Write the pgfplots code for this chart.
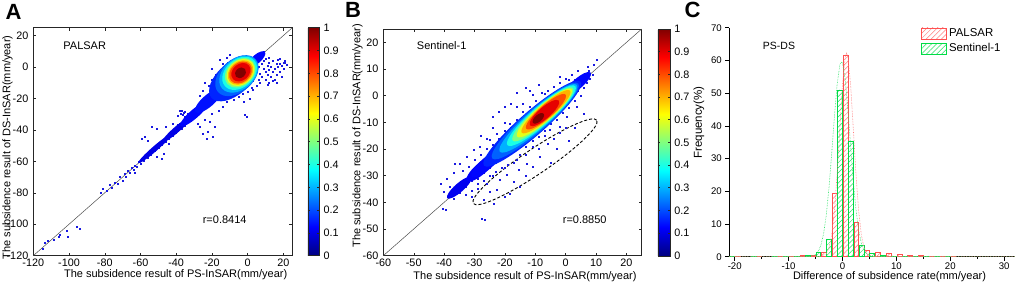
\documentclass[border=0pt]{standalone}
\usepackage{pgfplots}
\pgfplotsset{compat=1.18}
\usepackage{fontspec}
\setmainfont{Liberation Sans}
\usetikzlibrary{patterns.meta}

\def\ellr{1}
\pgfdeclareplotmark{ell}{%
  \pgfpathellipse{\pgfpointorigin}{\pgfpointpolar{41}{\pgfplotmarksize}}{\pgfpointpolar{131}{\ellr*\pgfplotmarksize}}%
  \pgfusepathqfill}

\newcommand{\fsL}{\fontsize{11}{13}\selectfont}
\newcommand{\fsT}{\fontsize{10.8}{12}\selectfont}
\newcommand{\fsC}{\fontsize{9.6}{11}\selectfont}
\definecolor{dotblue}{RGB}{25,25,225}
\definecolor{palred}{RGB}{255,80,80}
\definecolor{palredl}{RGB}{255,125,125}
\definecolor{sengreen}{RGB}{0,220,70}
\definecolor{sengreenl}{RGB}{40,225,100}

\pgfplotsset{
  mapax/.style={
    scale only axis, anchor=south west,
    colormap/jet, point meta min=0, point meta max=1,
    axis line style={black!85}, every tick/.style={black!85, line width=0.4pt},
    major tick length=3pt, tick align=inside,
    tick label style={font=\fsT},
    /pgf/number format/assume math mode=true,
    yticklabel style={xshift=-1.5pt},
    clip=false,
  },
  layer/.style={scatter, only marks, mark=ell,
    point meta=\thisrow{c},
    visualization depends on={value \thisrow{s} \as \perpointsize},
    visualization depends on={value \thisrow{r} \as \ellr},
    scatter/@pre marker code/.append style={/tikz/mark size=\perpointsize}},
  dots/.style={only marks, mark=square*, mark size=0.5pt, color=dotblue},
}

\begin{document}
\begin{tikzpicture}
\path[use as bounding box] (0,0) rectangle (1017pt,283pt);

% ---------------- Panel A ----------------
\begin{axis}[mapax,
  at={(33.3pt,27.3pt)}, width=259pt, height=228pt,
  xmin=-120, xmax=25, ymin=-120, ymax=25,
  xtick={-120,-100,-80,-60,-40,-20,0,20},
  ytick={-120,-100,-80,-60,-40,-20,0,20},
  colorbar,
  colorbar style={at={(parent axis.north east)}, anchor=north west, xshift=7pt,
    width=11.7pt, height=228pt, scale only axis,
    ytick={0,0.1,0.2,0.3,0.4,0.5,0.6,0.7,0.8,0.9,1},
    yticklabel style={font=\fsT, xshift=0.5pt},
    major tick length=2.5pt,
    /pgf/number format/assume math mode=true,
    axis line style={black!85}},
]
\addplot[black!70, line width=0.5pt] coordinates {(-120,-120) (25,25)};
\addplot[dots] table {
x y
-115 -115.5
-113.5 -112
-112 -110.5
-108.5 -110
-106 -108
-105 -106.5
-101.5 -103.8
-101 -108
-95.7 -101.6
-94 -103
-82.5 -80
-81 -77.5
-79 -78.5
-77.5 -75
-76 -77
-74.5 -73.5
-73 -74.5
-71.5 -69.5
-70 -72
-69 -68
-68 -69.5
-67 -66
-66 -67.5
-65 -64
-64 -65.5
-63 -62.5
-62 -63.5
-61 -60
-60 -61.5
-59 -58.5
-58 -59.5
-57 -56
-56 -57.5
-55 -54
-54 -55.5
-53 -52
-52 -53.5
-51 -50
-50 -51.5
-49 -48
-48 -49.5
-47 -46
-46 -47.5
-45 -44
-44 -45.5
-43 -42
-42 -43.5
-41 -40
-59.4 -45.4
-57.5 -44.3
-53.8 -38
-51 -39
-51 -57
-48.2 -58
-63 -67
-56 -47
-46 -38
-44 -49
-42 -36
-47 -55
-40 -41.5
-39 -37
-39 -40.5
-38 -38.5
-38 -36
-37 -39.5
-37 -35.5
-36 -36.5
-36 -34
-35 -37.5
-35 -33.5
-34 -34.5
-34 -31.5
-33 -35
-33 -32.5
-32 -31
-32 -34
-31 -30
-31 -32.5
-30 -28
-30 -31.5
-29 -29.5
-29 -26.5
-28 -30
-28 -27
-27 -25
-27 -28.5
-26 -27
-26 -23.5
-25 -25.5
-25 -22
-24 -26.5
-24 -23
-23 -21
-23 -24.5
-22 -22
-22 -19
-21 -23.5
-21 -20
-20 -18
-20 -21.5
-19 -16.5
-19 -20
-18 -15.5
-18 -19.5
-17 -14
-17 -18
-16 -13
-16 -17.5
-38 -28
-37.5 -29.5
-37 -27.5
-36.5 -30.5
-36 -29
-35.5 -31.5
-35 -28.5
-34.5 -32
-33.5 -29.5
-39 -31
-26.8 -38
-25 -42.2
-22.1 -41.2
-19.3 -44.3
-23 -45.3
-18.4 -38
-21.2 -34.8
-23.9 -33.7
-28 -36
-20 -30
-16 -28
-14 -25
-12 -22
-1.6 -30.5
-0.7 -31.6
3 -14.6
-3 -17
0 -16
2 -13
5 -12
-5 -19
-8 -21
-10 -18
1 -20
-2 -22
-6 -16
5 -2
6 0.5
7 -4
8 2
8 -6
9 -1
9 4
10 -3
10 -8
11 1
11 -5
12 3
12 -2
13 -6
13 0
14 -3
14 4
15 -1
15 -8
16 2
16 -5
17 0
17 4.5
18 -3
18 2
19 1
19 -6
20 3
20 -1
21 2.5
22 1.5
21 4
6 -8
7 -10
12 -10
14 -9
11 -11
3 -9
16 -10
18 5
12 6
8.7 8.9
7 7
5 6
10 5.5
9 10
-20.2 -0.8
-15.6 4.5
-14 2
-18 -5
-12 6
-10 8
-15 -2
-20 -8
-22 -12
-24 -10
-17 -9
-25 -15
-27 -18
-13 -4
-11 3
};
\addplot[layer] table {
x y c s r
-52 -52 0.1 22 0.12
-40 -40 0.1 18 0.17
-30 -30 0.13 18 0.25
-22 -21.5 0.14 17 0.35
5 5 0.13 11 0.4
-8 -7.5 0.16 29 0.55
-6 -5.5 0.22 25 0.65
-5 -4.5 0.3 22 0.7
-4.5 -4 0.4 19.5 0.72
-4.2 -3.7 0.5 17 0.75
-4 -3.5 0.6 15.5 0.76
-4 -3.5 0.7 14 0.77
-4 -3.5 0.8 12.5 0.78
-3.8 -3.3 0.9 10.5 0.78
-4 -3.7 1.0 6 0.8
};
\end{axis}

% ---------------- Panel B ----------------
\begin{axis}[mapax,
  at={(383.3pt,27.3pt)}, width=258.4pt, height=226.7pt,
  xmin=-60, xmax=25, ymin=-60, ymax=25,
  xtick={-60,-50,-40,-30,-20,-10,0,10,20},
  ytick={-60,-50,-40,-30,-20,-10,0,10,20},
  colorbar,
  colorbar style={at={(parent axis.north east)}, anchor=north west, xshift=7.6pt,
    width=12.4pt, height=226.7pt, scale only axis,
    ytick={0,0.1,0.2,0.3,0.4,0.5,0.6,0.7,0.8,0.9,1},
    yticklabel style={font=\fsT, xshift=0.5pt},
    major tick length=2.5pt,
    /pgf/number format/assume math mode=true,
    axis line style={black!85}},
]
\addplot[black!70, line width=0.5pt] coordinates {(-60,-60) (25,25)};
\addplot[dots] table {
x y
-40.3 -42.2
-39.5 -42.6
-41 -33
-40 -36
-39 -31
-36.4 -25.4
-27.6 -46
-26.5 -46.6
-38 -34
-37 -29
-34.8 -25.4
-32.6 -22.9
-30.4 -20.4
-28.2 -19.1
-24.9 -16.6
-22.7 -14.1
-18.3 -10.4
-14 -2.9
-10.7 0.3
-6.8 0.9
-1.9 7.1
0.9 5.9
7.4 10.9
9.1 11.5
7.7 9.3
10.2 13.4
0.3 -7.9
3.6 -4.1
-1.9 -11.6
-5.2 -12.9
5.8 -6.6
-22.7 -35.4
-26 -32.9
-21.6 -31.6
-19.4 -29.7
-17.2 -32.3
-15.6 -27.9
-12.8 -25.4
-10.7 -26.6
-8.5 -22.9
-27.1 -39.1
-23.8 -40.4
-18.3 -36.6
-15 -34.1
-38.1 -34.1
-6 -18
-4 -16
-2 -14
0 -12
-9 -20
-13 -22
-11 -19
-16 -24
-20 -27
-24 -30
-7 -15
-3 -20
1 -17
-25 -36
-20 -38
-13 -30
-5 -25
3 -12
-29 -35
-31 -38
-38 -37
-37 -38.5
-36 -35
-35 -36.5
-34 -32.5
-33 -34
-32 -30
-31 -32
-30 -27.5
-29 -31
-28 -25.5
-27 -29
-26 -23
-25 -27
-24 -21.5
-23 -25
-22 -19
-21 -23.5
-20 -17
-19 -22
-18 -15
-17 -20
-34 -28
-32 -26.5
-30 -24
-28 -22
-26 -20
-24 -18.5
-22 -16
-20 -13
-18 -12
-16 -9
-14 -6
-12 -4
-10 -2
-8 1
-6 2
-4 3.5
-2 5
0 6.5
2 8
4 9.5
-33 -37
-31 -35.5
-29 -33
-27 -32
-25 -30
-23 -28.5
-21 -27
-19 -26
-17 -25
-15 -22
-13 -19
-11 -17
-9 -15.5
-7 -13
-5 -10.5
-3 -9
-1 -6.5
1 -4.5
3 -2
5 0
6 3
7 5
8 6.5
9 8
4 2
2 0
6 8
3 6
-12 2
-16 -4
-20 -10
-26 -16
-24 -12
-28 -15
-24 -8
-22 -6
-20 -4
-18 -3
-16 1
-13 3
-9 4
};
\addplot[layer] table {
x y c s r
-35 -34.5 0.11 16 0.28
-28 -27.5 0.12 18 0.32
-26 -25.5 0.13 20 0.3
-20 -19.5 0.14 22 0.32
4 4.5 0.13 17 0.3
-11 -10.5 0.16 64 0.19
-10 -9.5 0.22 57 0.2
-9 -8.5 0.3 51 0.2
-8 -7.5 0.4 45 0.21
-7.5 -7 0.5 40 0.215
-7 -6.5 0.6 36 0.22
-6.5 -6 0.7 32 0.225
-6.5 -6 0.8 26 0.25
-7 -6.5 0.9 19 0.3
-9 -8.5 1.0 7 0.5
};
\draw[black, line width=0.9pt, dash pattern=on 3pt off 2pt, rotate around={34:(axis cs:-10.1,-24.8)}]
  (axis cs:-10.1,-24.8) ellipse [x radius=74.5pt, y radius=12.5pt];
\end{axis}

% ---------------- Panel C ----------------
\begin{axis}[
  scale only axis, anchor=south west,
  at={(729.3pt,26.3pt)}, width=285.7pt, height=229pt,
  xmin=-21, xmax=32, ymin=0, ymax=70,
  axis x line*=bottom, axis y line*=left,
  axis line style={black, line width=0.7pt},
  every tick/.style={black, line width=0.6pt},
  tick align=outside, major tick length=4pt, minor tick length=2.5pt,
  xtick={-20,-10,0,10,20,30}, minor x tick num=1,
  ytick={0,10,20,30,40,50,60,70},
  tick label style={font=\fsC},
  xticklabel style={yshift=1.5pt},
  /pgf/number format/assume math mode=true,
  legend style={draw=none, fill=none, at={(0.672,1.005)}, anchor=north west,
    font=\fontsize{11.4}{13}\selectfont, row sep=1.5pt, inner sep=0pt,
    cells={anchor=west}},
  legend image code/.code={\draw[#1] (0pt,-5.5pt) rectangle (25pt,5.5pt);},
  clip=false,
]
\addplot[ybar, bar width=0.9, bar shift=0pt, draw=palred, line width=0.6pt,
  pattern={Lines[angle=45,distance=3.6pt,line width=0.5pt]}, pattern color=palredl]
  table {
x y
-19.45 0.1
-15.45 0.1
-11.45 0.15
-9.45 0.2
-7.45 0.3
-5.45 0.5
-3.45 1.3
-1.45 19.4
0.55 61.5
2.55 10.5
4.55 2.0
6.55 1.3
8.55 1.0
10.55 0.8
12.55 0.5
14.55 0.3
16.55 0.2
18.55 0.15
20.55 0.1
};
\addlegendentry{PALSAR}
\addplot[ybar, bar width=0.9, bar shift=0pt, draw=sengreen, line width=0.6pt,
  pattern={Lines[angle=45,distance=3.6pt,line width=0.5pt]}, pattern color=sengreenl]
  table {
x y
-20.5 0.1
-16.5 0.1
-12.5 0.1
-10.5 0.15
-8.5 0.2
-6.5 0.4
-4.5 1.2
-2.5 5.4
-0.5 51
1.5 35.4
3.5 3.5
5.5 0.9
7.5 0.4
9.5 0.25
11.5 0.2
13.5 0.15
15.5 0.25
17.5 0.2
19.5 0.1
};
\addlegendentry{Sentinel-1}
\addplot[forget plot, sengreenl, densely dotted, line width=0.6pt] coordinates {
(-21,0) (-8,0) (-6,0.08) (-5,0.66) (-4.5,1.61) (-4,3.55) (-3.5,7.11) (-3,12.89)
(-2.5,21.21) (-2,31.65) (-1.5,42.85) (-1,52.6) (-0.5,58.56) (-0.2,59.6) (0,59.14)
(0.5,54.16) (1,45.0) (1.5,33.9) (2,23.16) (2.5,14.35) (3,8.07) (3.5,4.11) (4,1.9)
(4.5,0.8) (5,0.3) (6,0.03) (8,0) (32,0)};
\addplot[forget plot, palredl, densely dotted, line width=0.6pt] coordinates {
(-21,0) (-6,0) (-4,0.08) (-3,0.97) (-2.5,2.73) (-2,6.64) (-1.5,13.91) (-1,25.13)
(-0.5,39.18) (0,52.68) (0.5,61.06) (0.75,62.2) (1,61.06) (1.5,52.68) (2,39.18)
(2.5,25.13) (3,13.91) (3.5,6.64) (4,2.73) (4.5,0.97) (5.5,0.08) (7.5,0) (32,0)};
\end{axis}

% ---------------- texts ----------------
\node[font=\fontsize{22}{24}\selectfont\bfseries] at (13.5pt,271.5pt) {A};
\node[font=\fontsize{22}{24}\selectfont\bfseries] at (353pt,273pt) {B};
\node[font=\fontsize{22}{24}\selectfont\bfseries] at (692.5pt,273pt) {C};

\node[font=\fsL] at (84.7pt,237.2pt) {PALSAR};
\node[font=\fsL] at (224.7pt,63.5pt) {r=0.8414};
\node[font=\fsL] at (441.7pt,237pt) {Sentinel-1};
\node[font=\fsL] at (584.7pt,63.5pt) {r=0.8850};
\node[font=\fontsize{10.5}{12}\selectfont] at (779pt,237.2pt) {PS-DS};

\node[font=\fsL] at (175.7pt,8.5pt) {The subsidence result of PS-InSAR(mm/year)};
\node[font=\fsL, rotate=90] at (7.5pt,135.5pt) {The subsidence result of DS-InSAR(mm/year)};
\node[font=\fsL] at (525pt,6.5pt) {The subsidence result of PS-InSAR(mm/year)};
\node[font=\fsL, rotate=90] at (357.5pt,147.2pt) {The subsidence result of DS-InSAR(mm/year)};
\node[font=\fsL] at (889.5pt,6pt) {Difference of subsidence rate(mm/year)};
\node[font=\fontsize{11.5}{13}\selectfont, rotate=90] at (699pt,160.5pt) {Frequency(\%)};
\end{tikzpicture}
\end{document}
